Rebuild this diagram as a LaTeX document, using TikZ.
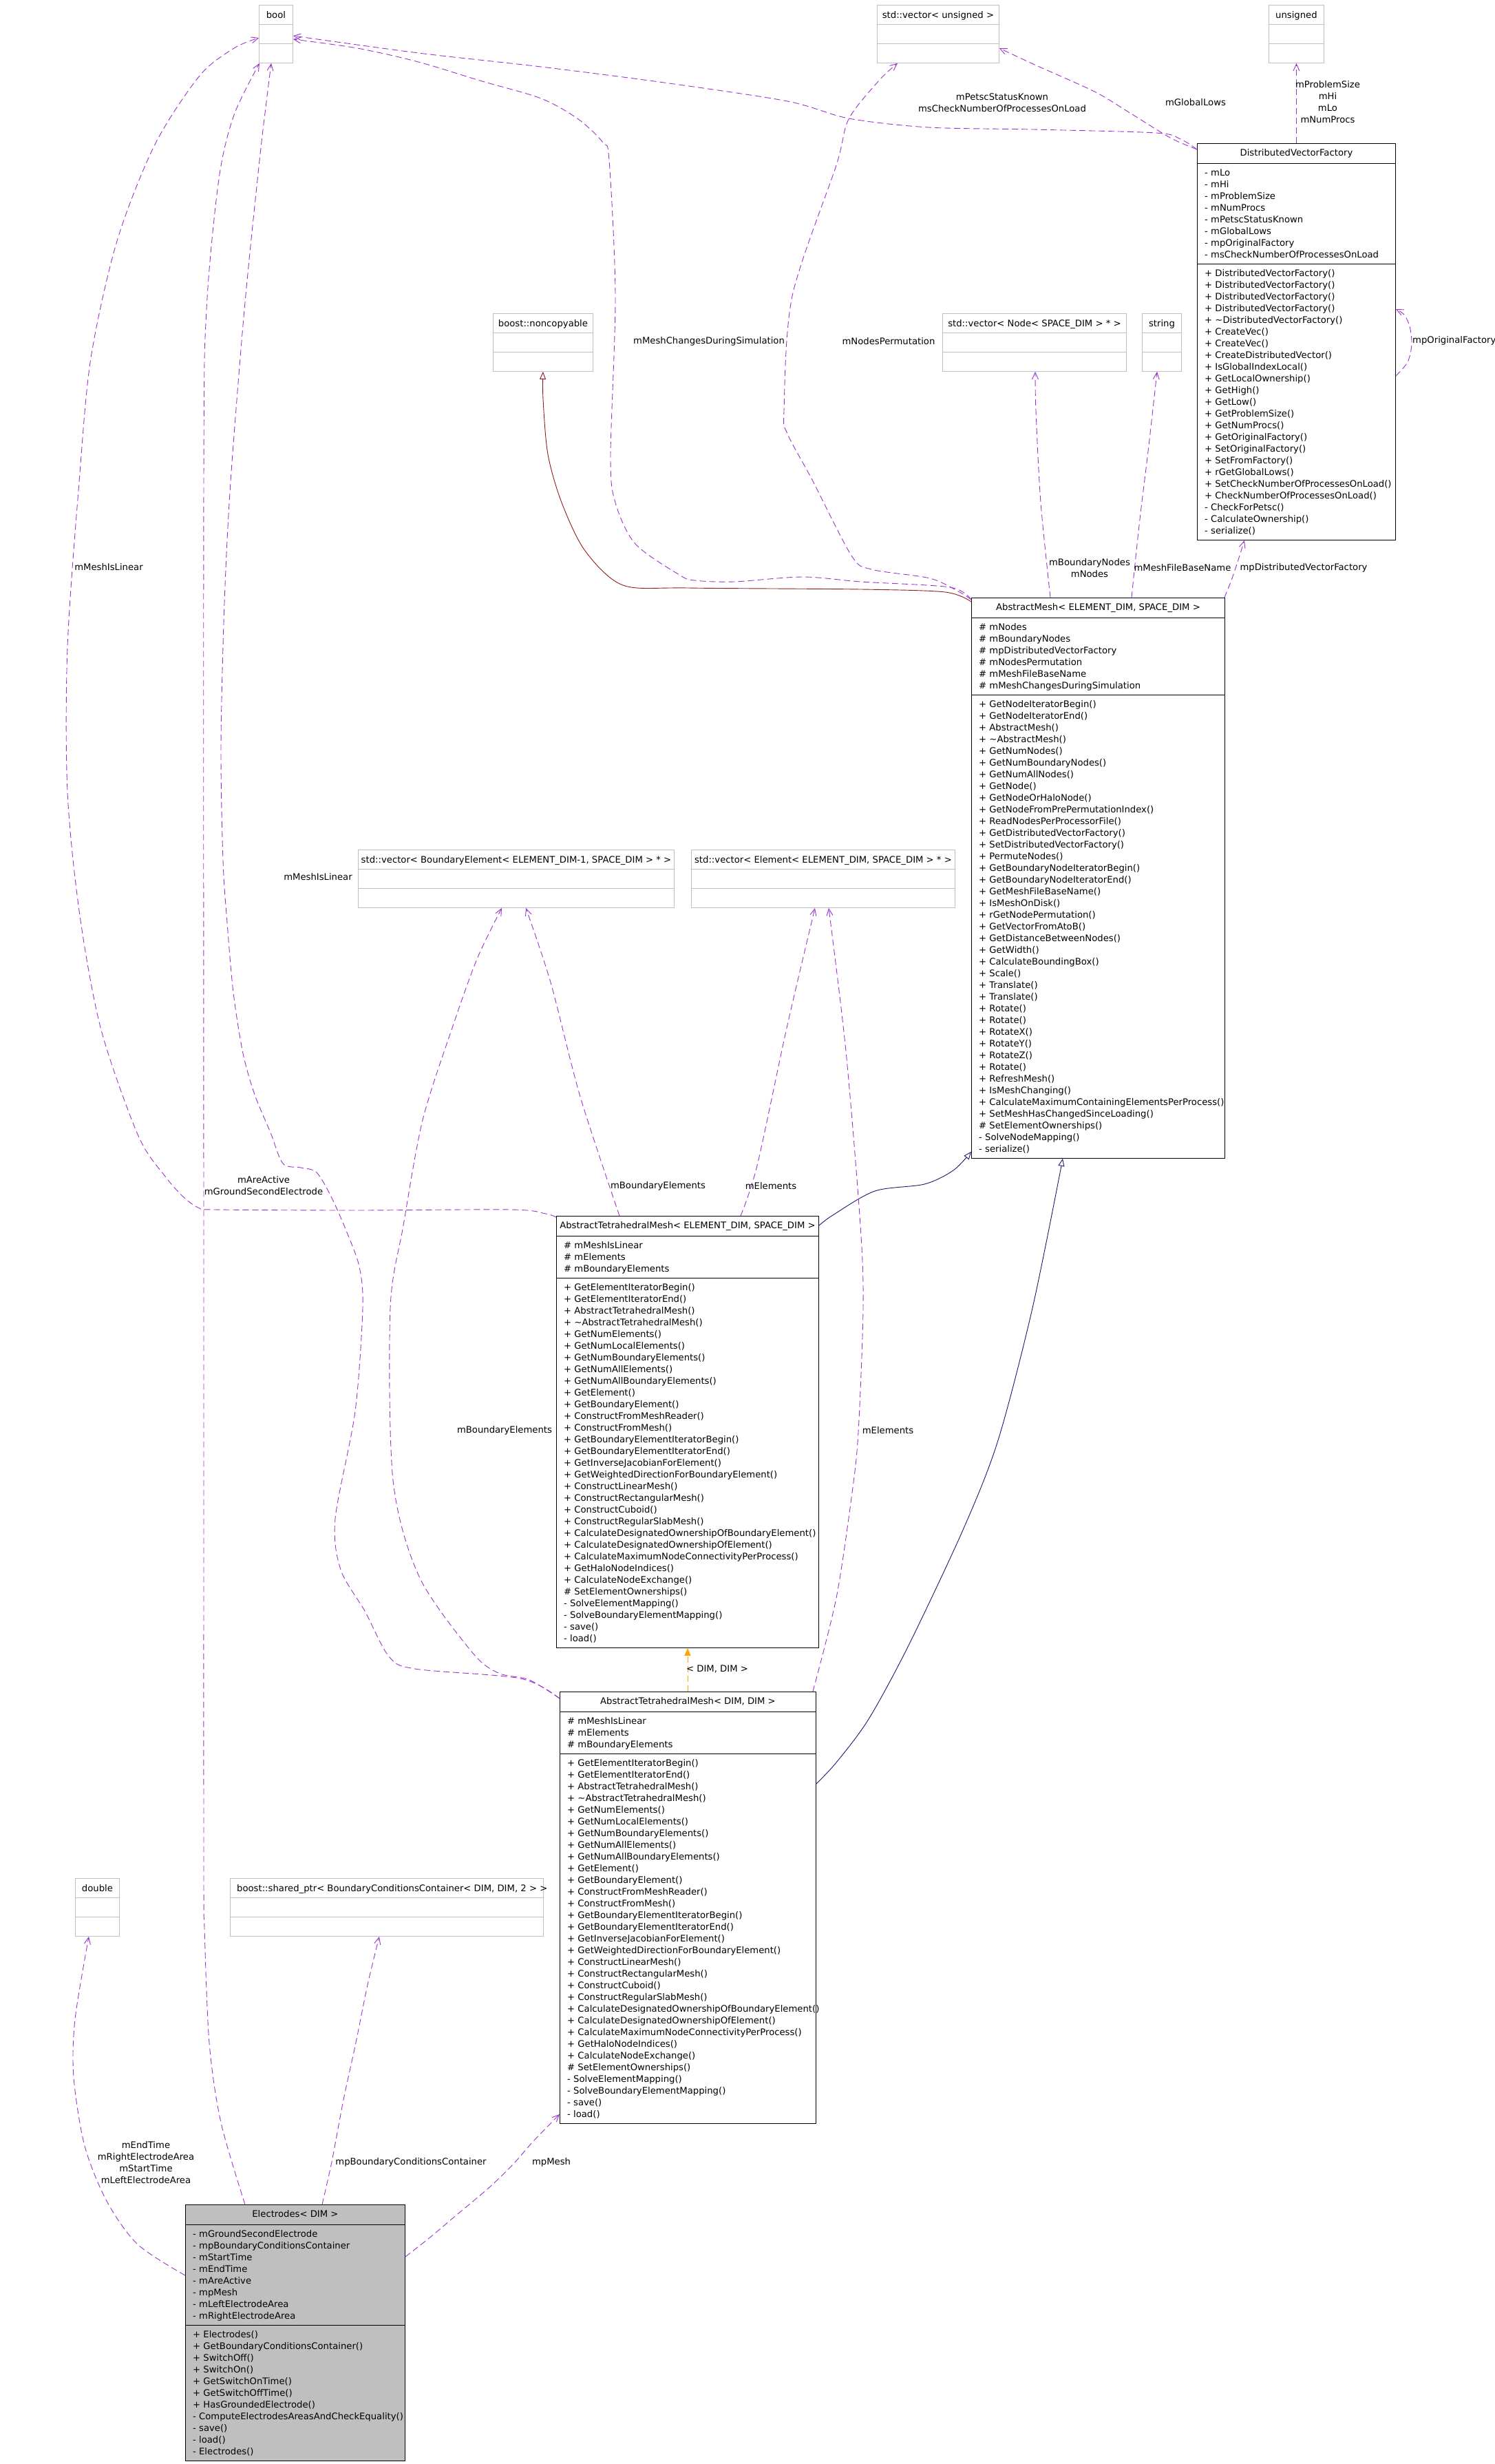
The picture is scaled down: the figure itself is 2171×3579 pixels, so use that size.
\documentclass[tikz,border=0pt]{standalone}
\usepackage{fontspec}
\setmainfont{DejaVu Sans}
\usetikzlibrary{arrows.meta}
\definecolor{usecol}{HTML}{9A32CD}
\definecolor{inhcol}{HTML}{191970}
\definecolor{privcol}{HTML}{8B1A1A}
\definecolor{tmplcol}{HTML}{FFA500}
\definecolor{graybox}{HTML}{BFBFBF}
\newcommand{\mfont}{\fontsize{13.2}{17}\selectfont}
\tikzset{
  cbox/.style={draw=black, line width=0.9pt, fill=white, inner sep=0pt, anchor=north west},
  eboxst/.style={draw=graybox, line width=0.9pt, fill=white, inner sep=0pt, anchor=north west, minimum height=84pt},
  mtext/.style={anchor=base west, inner sep=0pt, font=\mfont},
  ttext/.style={anchor=base, inner sep=0pt, font=\mfont},
  elabel/.style={inner sep=0pt, font=\mfont, align=center},
  usage/.style={draw=usecol, line width=0.9pt, dash pattern=on 9pt off 5pt, -{Straight Barb[length=10pt,width=9pt]}},
  pubinh/.style={draw=inhcol, line width=0.9pt, -{Triangle[length=11pt,width=9pt,fill=white]}},
  privinh/.style={draw=privcol, line width=0.9pt, -{Triangle[length=11pt,width=9pt,fill=white]}},
  tmpl/.style={draw=tmplcol, line width=0.9pt, dash pattern=on 9pt off 5pt, -{Triangle[length=11pt,width=9pt]}},
  sepl/.style={draw=black, line width=0.9pt},
  esepl/.style={draw=graybox, line width=0.9pt},
}
\newcommand{\mlines}[4]{%
  \foreach \mtxt [count=\mi from 0] in {#4} {%
    \node[mtext] (#1-\mi) at (#2,{#3+17*\mi}) {\mtxt};}}
\newcommand{\emptybox}[5]{%
  \node[eboxst, minimum width=#4] (#1) at (#2,#3) {};
  \draw[esepl] ([yshift=-28pt]#1.north west) -- ([yshift=-28pt]#1.north east);
  \draw[esepl] ([yshift=-56pt]#1.north west) -- ([yshift=-56pt]#1.north east);
  \node[ttext] (#1-t) at ([yshift=-19pt]#1.north) {#5};}
\begin{document}
\begin{tikzpicture}[x=1pt,y=-1pt]
\path[use as bounding box] (0,0) rectangle (2171,3579);

% ---------- empty (undocumented) boxes ----------
\emptybox{bool}{376}{7}{49}{bool}
\emptybox{vu}{1274}{7}{177}{std::vector< unsigned >}
\emptybox{uns}{1843}{7}{80}{unsigned}
\emptybox{nc}{716}{455}{145}{boost::noncopyable}
\emptybox{vn}{1369}{455}{267}{std::vector< Node< SPACE\_DIM > * >}
\emptybox{str}{1659}{455}{57}{string}
\emptybox{vbe}{520}{1234}{459}{std::vector< BoundaryElement< ELEMENT\_DIM-1, SPACE\_DIM > * >}
\emptybox{vel}{1004}{1234}{383}{std::vector< Element< ELEMENT\_DIM, SPACE\_DIM > * >}
\emptybox{dbl}{109}{2728}{64}{double}
\node[eboxst, minimum width=455] (sp) at (334,2728) {};
\draw[esepl] ([yshift=-28pt]sp.north west) -- ([yshift=-28pt]sp.north east);
\draw[esepl] ([yshift=-56pt]sp.north west) -- ([yshift=-56pt]sp.north east);
\node[mtext] (sp-t) at (344,2747) {boost::shared\_ptr< BoundaryConditionsContainer< DIM, DIM, 2 > >};

% ---------- DistributedVectorFactory ----------
\node[cbox, minimum width=288, minimum height=576] (dvf) at (1739,208) {};
\draw[sepl] ([yshift=-29pt]dvf.north west) -- ([yshift=-29pt]dvf.north east);
\draw[sepl] ([yshift=-175pt]dvf.north west) -- ([yshift=-175pt]dvf.north east);
\node[ttext] (dvf-t) at ([yshift=-18pt]dvf.north) {DistributedVectorFactory};
\mlines{dvf-a}{1750}{255}{- mLo,- mHi,- mProblemSize,- mNumProcs,- mPetscStatusKnown,- mGlobalLows,- mpOriginalFactory,- msCheckNumberOfProcessesOnLoad}
\mlines{dvf-m}{1750}{401}{+ DistributedVectorFactory(),+ DistributedVectorFactory(),+ DistributedVectorFactory(),+ DistributedVectorFactory(),+ \textasciitilde DistributedVectorFactory(),+ CreateVec(),+ CreateVec(),+ CreateDistributedVector(),+ IsGlobalIndexLocal(),+ GetLocalOwnership(),+ GetHigh(),+ GetLow(),+ GetProblemSize(),+ GetNumProcs(),+ GetOriginalFactory(),+ SetOriginalFactory(),+ SetFromFactory(),+ rGetGlobalLows(),+ SetCheckNumberOfProcessesOnLoad(),+ CheckNumberOfProcessesOnLoad(),- CheckForPetsc(),- CalculateOwnership(),- serialize()}

% ---------- AbstractMesh ----------
\node[cbox, minimum width=368, minimum height=814] (am) at (1411,868) {};
\draw[sepl] ([yshift=-29pt]am.north west) -- ([yshift=-29pt]am.north east);
\draw[sepl] ([yshift=-141pt]am.north west) -- ([yshift=-141pt]am.north east);
\node[ttext] (am-t) at ([yshift=-18pt]am.north) {AbstractMesh< ELEMENT\_DIM, SPACE\_DIM >};
\mlines{am-a}{1422}{915}{\# mNodes,\# mBoundaryNodes,\# mpDistributedVectorFactory,\# mNodesPermutation,\# mMeshFileBaseName,\# mMeshChangesDuringSimulation}
\mlines{am-m}{1422}{1027}{+ GetNodeIteratorBegin(),+ GetNodeIteratorEnd(),+ AbstractMesh(),+ \textasciitilde AbstractMesh(),+ GetNumNodes(),+ GetNumBoundaryNodes(),+ GetNumAllNodes(),+ GetNode(),+ GetNodeOrHaloNode(),+ GetNodeFromPrePermutationIndex(),+ ReadNodesPerProcessorFile(),+ GetDistributedVectorFactory(),+ SetDistributedVectorFactory(),+ PermuteNodes(),+ GetBoundaryNodeIteratorBegin(),+ GetBoundaryNodeIteratorEnd(),+ GetMeshFileBaseName(),+ IsMeshOnDisk(),+ rGetNodePermutation(),+ GetVectorFromAtoB(),+ GetDistanceBetweenNodes(),+ GetWidth(),+ CalculateBoundingBox(),+ Scale(),+ Translate(),+ Translate(),+ Rotate(),+ Rotate(),+ RotateX(),+ RotateY(),+ RotateZ(),+ Rotate(),+ RefreshMesh(),+ IsMeshChanging(),+ CalculateMaximumContainingElementsPerProcess(),+ SetMeshHasChangedSinceLoading(),\# SetElementOwnerships(),- SolveNodeMapping(),- serialize()}

% ---------- AbstractTetrahedralMesh<ELEMENT_DIM,SPACE_DIM> ----------
\node[cbox, minimum width=381, minimum height=627] (ates) at (808,1766) {};
\draw[sepl] ([yshift=-29pt]ates.north west) -- ([yshift=-29pt]ates.north east);
\draw[sepl] ([yshift=-90pt]ates.north west) -- ([yshift=-90pt]ates.north east);
\node[ttext] (ates-t) at ([yshift=-18pt]ates.north) {AbstractTetrahedralMesh< ELEMENT\_DIM, SPACE\_DIM >};
\mlines{ates-a}{819}{1813}{\# mMeshIsLinear,\# mElements,\# mBoundaryElements}
\mlines{ates-m}{819}{1874}{+ GetElementIteratorBegin(),+ GetElementIteratorEnd(),+ AbstractTetrahedralMesh(),+ \textasciitilde AbstractTetrahedralMesh(),+ GetNumElements(),+ GetNumLocalElements(),+ GetNumBoundaryElements(),+ GetNumAllElements(),+ GetNumAllBoundaryElements(),+ GetElement(),+ GetBoundaryElement(),+ ConstructFromMeshReader(),+ ConstructFromMesh(),+ GetBoundaryElementIteratorBegin(),+ GetBoundaryElementIteratorEnd(),+ GetInverseJacobianForElement(),+ GetWeightedDirectionForBoundaryElement(),+ ConstructLinearMesh(),+ ConstructRectangularMesh(),+ ConstructCuboid(),+ ConstructRegularSlabMesh(),+ CalculateDesignatedOwnershipOfBoundaryElement(),+ CalculateDesignatedOwnershipOfElement(),+ CalculateMaximumNodeConnectivityPerProcess(),+ GetHaloNodeIndices(),+ CalculateNodeExchange(),\# SetElementOwnerships(),- SolveElementMapping(),- SolveBoundaryElementMapping(),- save(),- load()}

% ---------- AbstractTetrahedralMesh<DIM,DIM> ----------
\node[cbox, minimum width=372, minimum height=627] (atdd) at (813,2457) {};
\draw[sepl] ([yshift=-29pt]atdd.north west) -- ([yshift=-29pt]atdd.north east);
\draw[sepl] ([yshift=-90pt]atdd.north west) -- ([yshift=-90pt]atdd.north east);
\node[ttext] (atdd-t) at ([yshift=-18pt]atdd.north) {AbstractTetrahedralMesh< DIM, DIM >};
\mlines{atdd-a}{824}{2504}{\# mMeshIsLinear,\# mElements,\# mBoundaryElements}
\mlines{atdd-m}{824}{2565}{+ GetElementIteratorBegin(),+ GetElementIteratorEnd(),+ AbstractTetrahedralMesh(),+ \textasciitilde AbstractTetrahedralMesh(),+ GetNumElements(),+ GetNumLocalElements(),+ GetNumBoundaryElements(),+ GetNumAllElements(),+ GetNumAllBoundaryElements(),+ GetElement(),+ GetBoundaryElement(),+ ConstructFromMeshReader(),+ ConstructFromMesh(),+ GetBoundaryElementIteratorBegin(),+ GetBoundaryElementIteratorEnd(),+ GetInverseJacobianForElement(),+ GetWeightedDirectionForBoundaryElement(),+ ConstructLinearMesh(),+ ConstructRectangularMesh(),+ ConstructCuboid(),+ ConstructRegularSlabMesh(),+ CalculateDesignatedOwnershipOfBoundaryElement(),+ CalculateDesignatedOwnershipOfElement(),+ CalculateMaximumNodeConnectivityPerProcess(),+ GetHaloNodeIndices(),+ CalculateNodeExchange(),\# SetElementOwnerships(),- SolveElementMapping(),- SolveBoundaryElementMapping(),- save(),- load()}

% ---------- Electrodes ----------
\node[cbox, fill=graybox, minimum width=319, minimum height=372] (el) at (269,3202) {};
\draw[sepl] ([yshift=-29pt]el.north west) -- ([yshift=-29pt]el.north east);
\draw[sepl] ([yshift=-175pt]el.north west) -- ([yshift=-175pt]el.north east);
\node[ttext] (el-t) at ([yshift=-18pt]el.north) {Electrodes< DIM >};
\mlines{el-a}{280}{3249}{- mGroundSecondElectrode,- mpBoundaryConditionsContainer,- mStartTime,- mEndTime,- mAreActive,- mpMesh,- mLeftElectrodeArea,- mRightElectrodeArea}
\mlines{el-m}{280}{3395}{+ Electrodes(),+ GetBoundaryConditionsContainer(),+ SwitchOff(),+ SwitchOn(),+ GetSwitchOnTime(),+ GetSwitchOffTime(),+ HasGroundedElectrode(),- ComputeElectrodesAreasAndCheckEquality(),- save(),- load(),- Electrodes()}

% ---------- connectors ----------
% DVF -> unsigned
\draw[usage] (dvf.north) -- (uns.south);
% DVF -> vector<unsigned>  (mGlobalLows)
\draw[usage] plot[smooth,tension=0.5] coordinates {([yshift=-9pt]dvf.north west) (1700,200) (1640,163) (1590,133) (1501,93) ([yshift=-63pt]vu.north east)};
% DVF -> bool (mPetscStatusKnown ...)
\draw[usage] plot[smooth,tension=0.5] coordinates {([yshift=-9pt]dvf.north west) (1715,202) (1679,193) (1501,188) (1349,185) (1233,172) (1144,147) (965,120) (786,97) (608,77) ([yshift=-45pt]bool.north east)};
% DVF self loop
\draw[usage] plot[smooth,tension=0.5] coordinates {([yshift=-338pt]dvf.north east) (2045,526) (2051,500) (2048,474) (2040,457) ([yshift=-241pt]dvf.north east)};
% AM -> DVF
\draw[usage] plot[smooth,tension=0.5] coordinates {([xshift=-1pt]am.north east) (1790,840) (1800,810) ([xshift=69pt]dvf.south west)};
% AM -> string
\draw[usage] plot[smooth,tension=0.5] coordinates {([xshift=233pt]am.north west) (1655,763) (1669,647) ([xshift=22pt]str.south west)};
% AM -> vector<Node>
\draw[usage] plot[smooth,tension=0.5] coordinates {([xshift=115pt]am.north west) (1512,730) (1505,597) ([xshift=135pt]vn.south west)};
% AM -> vector<unsigned> (mNodesPermutation)
\draw[usage] plot[smooth,tension=0.5] coordinates {([yshift=-3pt]am.north west) (1394,860) (1351,840) (1266,827) (1237,807) (1180,697) (1144,630) (1139,597) (1151,430) (1215,240) (1233,173) (1277,117) ([xshift=30pt]vu.south west)};
% AM -> bool (mMeshChangesDuringSimulation)
\draw[usage] plot[smooth,tension=0.5] coordinates {([yshift=-3pt]am.north west) (1380,853) (1251,845) (1166,838) (1066,845) (1009,843) (987,835) (923,790) (894,730) (887,663) (894,430) (885,233) (876,207) (840,173) (786,143) (697,117) (608,90) (519,70) ([yshift=-50pt]bool.north east)};
% AM -> noncopyable (private inheritance)
\draw[privinh] plot[smooth,tension=0.5] coordinates {([yshift=-6pt]am.north west) (1373,860) (1251,856) (1000,854) (905,850) (850,800) (816,730) (796,660) (789,580) (nc.south)};
% ATM<E,S> -> AM
\draw[pubinh] plot[smooth,tension=0.5] coordinates {([yshift=-14pt]ates.north east) (1210,1765) (1271,1730) (1343,1720) (1385,1700) ([yshift=10pt]am.south west)};
% ATM<D,D> -> AM
\draw[pubinh] plot[smooth,tension=0.5] coordinates {([yshift=-134pt]atdd.north east) (1215,2560) (1262,2497) (1320,2390) (1400,2220) (1450,2092) (1500,1900) ([xshift=133pt]am.south west)};
% template instance
\draw[tmpl] ([xshift=186pt]atdd.north west) -- ([xshift=191pt]ates.south west);
% ATM<E,S> -> vector<BE>
\draw[usage] plot[smooth,tension=0.5] coordinates {([xshift=92pt]ates.north west) (843,1593) (800,1427) ([xshift=244pt]vbe.south west)};
% ATM<E,S> -> vector<Element>
\draw[usage] plot[smooth,tension=0.5] coordinates {([xshift=268pt]ates.north west) (1100,1693) (1143,1493) ([xshift=180pt]vel.south west)};
% ATM<E,S> -> bool (mMeshIsLinear)
\draw[usage] plot[smooth,tension=0.5] coordinates {([yshift=-2pt]ates.north west) (793,1763) (743,1757) (514,1758) (312,1757) (290,1755) (268,1740) (241,1710) (201,1650) (147,1496) (116,1330) (98,1150) (98,940) (115,700) (132,520) (170,350) (225,210) (290,110) (340,70) ([yshift=-48pt]bool.north west)};
% ATM<D,D> -> vector<BE>
\draw[usage] plot[smooth,tension=0.5] coordinates {([yshift=-10pt]atdd.north west) (769,2440) (724,2430) (686,2400) (609,2290) (571,2150) (567,1900) (586,1780) (614,1627) (657,1493) (693,1393) ([xshift=209pt]vbe.south west)};
% ATM<D,D> -> vector<Element>
\draw[usage] plot[smooth,tension=0.5] coordinates {([xshift=-5pt]atdd.north east) (1215,2321) (1238,2168) (1247,2080) (1254,1900) (1250,1780) (1229,1527) ([xshift=200pt]vel.south west)};
% ATM<D,D> -> bool (mMeshIsLinear)
\draw[usage] plot[smooth,tension=0.5] coordinates {([yshift=-10pt]atdd.north west) (756,2438) (603,2424) (565,2406) (530,2340) (495,2280) (487,2206) (516,2050) (527,1900) (522,1840) (504,1790) (482,1740) (460,1703) (437,1696) (411,1690) (393,1645) (370,1590) (353,1530) (339,1442) (330,1340) (324,1250) (321,1082) (326,876) (335,700) (355,450) (377,233) (388,140) ([xshift=18pt]bool.south west)};
% Electrodes -> bool
\draw[usage] plot[smooth,tension=0.5] coordinates {([xshift=87pt]el.north west) (321,3083) (304,2967) (297,2800) (296,2700) (296,1900) (296,700) (300,450) (318,260) (340,167) ([xshift=1pt]bool.south west)};
% Electrodes -> double
\draw[usage] plot[smooth,tension=0.5] coordinates {([yshift=-103pt]el.north west) (200,3260) (155,3197) (123,3117) (107,3017) (109,2933) ([xshift=20pt]dbl.south west)};
% Electrodes -> shared_ptr
\draw[usage] plot[smooth,tension=0.5] coordinates {([xshift=199pt]el.north west) (482,3140) (499,3050) (517,2967) (534,2883) ([xshift=217pt]sp.south west)};
% Electrodes -> ATM<D,D> (mpMesh)
\draw[usage] plot[smooth,tension=0.5] coordinates {([yshift=-76pt]el.north east) (603,3267) (627,3248) (660,3220) (710,3178) (746,3143) (775,3110) ([yshift=14pt]atdd.south west)};

% ---------- labels ----------
\node[elabel] (lab1) at (1929,148.5) {mProblemSize\\mHi\\mLo\\mNumProcs};
\node[elabel] (lab2) at (1737,149) {mGlobalLows};
\node[elabel] (lab3) at (1456,149.5) {mPetscStatusKnown\\msCheckNumberOfProcessesOnLoad};
\node[elabel, anchor=west] (lab4) at (2052,495) {mpOriginalFactory};
\node[elabel] (lab5) at (1894,825) {mpDistributedVectorFactory};
\node[elabel] (lab6) at (1718,825) {mMeshFileBaseName};
\node[elabel] (lab7) at (1583,825) {mBoundaryNodes\\mNodes};
\node[elabel] (lab8) at (1291,496) {mNodesPermutation};
\node[elabel] (lab9) at (1030,496) {mMeshChangesDuringSimulation};
\node[elabel] (lab10) at (158,824) {mMeshIsLinear};
\node[elabel] (lab11) at (462,1274) {mMeshIsLinear};
\node[elabel] (lab12) at (383,1722) {mAreActive\\mGroundSecondElectrode};
\node[elabel] (lab13) at (956,1723) {mBoundaryElements};
\node[elabel] (lab14) at (1120,1723) {mElements};
\node[elabel] (lab15) at (733,2078) {mBoundaryElements};
\node[elabel] (lab16) at (1290,2078) {mElements};
\node[elabel] (lab17) at (1042,2424) {< DIM, DIM >};
\node[elabel] (lab18) at (212,3141) {mEndTime\\mRightElectrodeArea\\mStartTime\\mLeftElectrodeArea};
\node[elabel] (lab19) at (597,3141) {mpBoundaryConditionsContainer};
\node[elabel] (lab20) at (801,3141) {mpMesh};
\end{tikzpicture}
\end{document}
